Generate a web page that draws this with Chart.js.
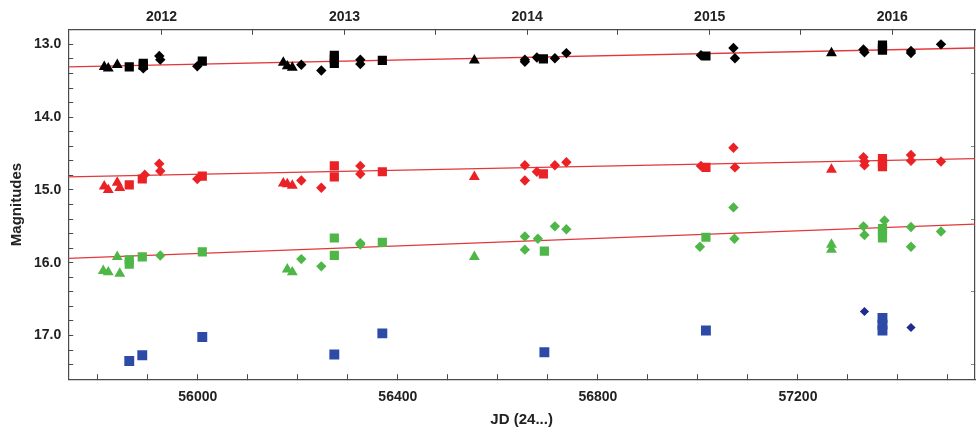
<!DOCTYPE html>
<html>
<head>
<meta charset="utf-8">
<script src="https://cdn.jsdelivr.net/npm/chart.js@4.4.1/dist/chart.umd.min.js"></script>
<style>
  html, body { margin: 0; padding: 0; background: #fff; }
  #wrap { width: 979px; height: 431px; }
</style>
</head>
<body>
<div id="wrap"><canvas id="lc" width="979" height="431"></canvas></div>
<script>
// JD (2400000 subtracted) and magnitude, per star and marker
const blackTriJD = [55813,55821,55839,56171,56179,56189,56553,57267];
const blackTriMag = [13.31,13.33,13.28,13.25,13.30,13.32,13.22,13.12];
const blackSqJD = [55863,55891,55891,56009,56273,56273,56273,56369,56691,57016,57369,57369,57369];
const blackSqMag = [13.31,13.26,13.29,13.23,13.15,13.20,13.26,13.22,13.20,13.16,13.01,13.05,13.08];
const blackDiaJD = [55891,55923,55925,55999,56207,56247,56325,56325,56654,56654,56678,56714,56737,57006,57071,57074,57331,57333,57426,57426,57486];
const blackDiaMag = [13.33,13.16,13.21,13.30,13.28,13.36,13.21,13.27,13.21,13.24,13.18,13.19,13.12,13.15,13.05,13.19,13.07,13.11,13.09,13.12,13.00];

const redTriJD = [55813,55821,55839,55844,56171,56179,56189,56553,57267];
const redTriMag = [14.95,15.00,14.90,14.97,14.91,14.92,14.94,14.82,14.72];
const redSqJD = [55863,55889,56009,56273,56273,56369,56691,57016,57369,57369,57369];
const redSqMag = [14.93,14.85,14.81,14.67,14.82,14.75,14.78,14.69,14.57,14.63,14.68];
const redDiaJD = [55894,55923,55925,55999,56207,56247,56325,56325,56654,56654,56678,56714,56737,57006,57071,57074,57331,57333,57333,57426,57426,57486];
const redDiaMag = [14.79,14.64,14.74,14.85,14.87,14.97,14.67,14.78,14.66,14.87,14.75,14.66,14.62,14.67,14.42,14.69,14.55,14.61,14.66,14.52,14.60,14.61];

const greenTriJD = [55811,55821,55839,55844,56179,56189,56553,57267,57267];
const greenTriMag = [16.11,16.13,15.92,16.15,16.09,16.13,15.92,15.75,15.82];
const greenSqJD = [55863,55863,55889,56009,56273,56273,56369,56693,57016,57369,57369,57369];
const greenSqMag = [15.96,16.02,15.92,15.85,15.66,15.90,15.72,15.84,15.65,15.53,15.58,15.66];
const greenDiaJD = [55925,56207,56247,56325,56325,56654,56654,56680,56714,56737,57004,57071,57073,57331,57333,57373,57426,57426,57486];
const greenDiaMag = [15.90,15.95,16.05,15.73,15.75,15.64,15.82,15.67,15.50,15.54,15.78,15.24,15.67,15.50,15.62,15.42,15.51,15.78,15.57];

const blueSqJD = [55863,55889,56009,56273,56369,56693,57016,57369,57369,57369];
const blueSqMag = [17.35,17.27,17.02,17.26,16.97,17.23,16.93,16.76,16.85,16.93];
const blueDiaJD = [57333,57426];
const blueDiaMag = [16.67,16.89];

// linear trends, read at both plot edges
const trendJD = [55741, 57554];
const trendBlack = [13.31, 13.05];
const trendRed = [14.82, 14.57];
const trendGreen = [15.94, 15.47];

// axes
const jdTicks = [55800,55900,56000,56100,56200,56300,56400,56500,56600,56700,56800,56900,57000,57100,57200,57300,57400,57500];
const jdLabels = [56000, 56400, 56800, 57200];
const yearJD = [55927.5, 56293.5, 56658.5, 57023.5, 57388.5];
const yearLabels = ['2012', '2013', '2014', '2015', '2016'];
const halfYearJD = [56109.5, 56474.5, 56839.5, 57204.5];
const magTicks = [13.0,13.2,13.4,13.6,13.8,14.0,14.2,14.4,14.6,14.8,15.0,15.2,15.4,15.6,15.8,16.0,16.2,16.4,16.6,16.8,17.0,17.2,17.4];
const magLabels = [13, 14, 15, 16, 17];
const rightTicks = [13.4, 14.4, 15.4, 16.4, 17.4];

function pts(jd, mag){
    return jd.map((x,i)=>({x:x, y:mag[i]}));
}

function marks(jd, mag, color, style, r){
    return {
        type: 'scatter',
        data: pts(jd, mag),
        pointStyle: style,
        pointRadius: r,
        pointBackgroundColor: color,
        pointBorderColor: color,
        pointBorderWidth: 0,
        order: 0
    };
}

function trend(mag){
    return {
        type: 'line',
        data: pts(trendJD, mag),
        borderColor: '#e2383a',
        borderWidth: 1.4,
        pointRadius: 0,
        fill: false,
        order: 5
    };
}

const BLACK = '#000000', RED = '#ea2226', GREEN = '#4fb748', BLUE = '#2d4aa6', NAVY = '#1f2b8e';
const tickFont = {family: "'Liberation Sans', Arial, sans-serif", size: 14, weight: 'bold'};
const titleFont = {family: "'Liberation Sans', Arial, sans-serif", size: 15, weight: 'bold'};
const frame = '#4a4a4a';

const datasets = [
    trend(trendBlack), trend(trendRed), trend(trendGreen),
    marks(blackTriJD, blackTriMag, BLACK, 'triangle', 6.3),
    marks(blackSqJD, blackSqMag, BLACK, 'rect', 6.5),
    marks(blackDiaJD, blackDiaMag, BLACK, 'rectRot', 5.2),
    marks(redTriJD, redTriMag, RED, 'triangle', 6.3),
    marks(redSqJD, redSqMag, RED, 'rect', 6.5),
    marks(redDiaJD, redDiaMag, RED, 'rectRot', 5.2),
    marks(greenTriJD, greenTriMag, GREEN, 'triangle', 6.3),
    marks(greenSqJD, greenSqMag, GREEN, 'rect', 6.5),
    marks(greenDiaJD, greenDiaMag, GREEN, 'rectRot', 5.2),
    marks(blueSqJD, blueSqMag, BLUE, 'rect', 7),
    marks(blueDiaJD, blueDiaMag, NAVY, 'rectRot', 4.6)
];

new Chart(document.getElementById('lc').getContext('2d'), {
    type: 'scatter',
    data: { datasets: datasets },
    options: {
        responsive: false,
        animation: false,
        events: [],
        layout: { autoPadding: false, padding: { left: 8, right: 4, top: 0, bottom: 2 } },
        plugins: { legend: { display: false }, tooltip: { enabled: false } },
        scales: {
            x: {
                type: 'linear', position: 'bottom', min: 55741, max: 57554,
                afterBuildTicks: s => { s.ticks = jdTicks.map(v=>({value:v})); },
                ticks: {
                    autoSkip: false, maxRotation: 0, padding: 15, color: '#222', font: tickFont,
                    callback: v => jdLabels.includes(v) ? String(v) : ''
                },
                grid: { drawOnChartArea: false, tickLength: -5, color: frame },
                border: { color: frame, width: 1.2 },
                title: { display: true, text: 'JD (24...)', color: '#222', font: titleFont, padding: {top: -10, bottom: 0} }
            },
            x2: {
                type: 'linear', position: 'top', min: 55741, max: 57554,
                afterBuildTicks: s => { s.ticks = yearJD.concat(halfYearJD).sort((a,b)=>a-b).map(v=>({value:v})); },
                ticks: {
                    autoSkip: false, maxRotation: 0, padding: 9, color: '#222', font: tickFont,
                    callback: v => { const i = yearJD.indexOf(v); return i >= 0 ? yearLabels[i] : ''; }
                },
                grid: { drawOnChartArea: false, tickLength: -5, color: frame },
                border: { color: frame, width: 1.2 }
            },
            y: {
                type: 'linear', position: 'left', reverse: true, min: 12.8, max: 17.6,
                afterBuildTicks: s => { s.ticks = magTicks.map(v=>({value:v})); },
                ticks: {
                    autoSkip: false, padding: 12, color: '#222', font: tickFont,
                    callback: v => magLabels.some(m => Math.abs(m - v) < 1e-6) ? v.toFixed(1) : ''
                },
                grid: { drawOnChartArea: false, tickLength: -5, color: frame },
                border: { color: frame, width: 1.2 },
                title: { display: true, text: 'Magnitudes', color: '#222', font: titleFont, padding: {top: 0, bottom: -4} }
            },
            y2: {
                type: 'linear', position: 'right', reverse: true, min: 12.8, max: 17.6,
                afterBuildTicks: s => { s.ticks = rightTicks.map(v=>({value:v})); },
                ticks: { display: false },
                grid: { drawOnChartArea: false, tickLength: -4, color: '#888' },
                border: { color: frame, width: 1.2 }
            }
        }
    }
});
</script>
</body>
</html>
